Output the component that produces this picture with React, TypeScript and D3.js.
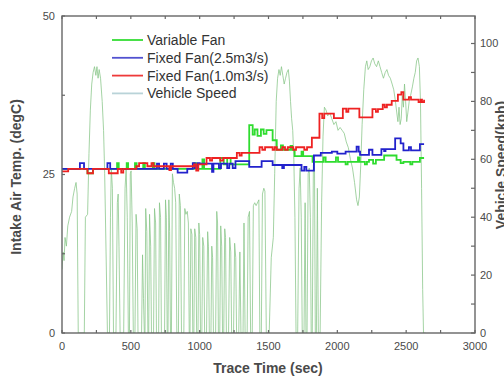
import * as d3 from "d3";

// trace time (sec) vs vehicle speed (kph)
const speedTime = [
  0, 8, 15, 22, 32, 42, 55, 70, 80, 92, 102, 110, 118, 162, 170, 186, 196, 206, 216, 226, 236, 246, 254, 262, 270,
  280, 292, 302, 310, 320, 330, 345, 352, 358, 366, 374, 392, 402, 408, 414, 422, 448, 458, 466, 474, 482, 490, 496,
  502, 510, 518, 530, 538, 546, 552, 578, 585, 592, 598, 603, 608, 616, 624, 630, 636, 644, 650, 665, 672, 680, 686,
  702, 708, 716, 722, 745, 752, 758, 764, 770, 776, 782, 788, 795, 802, 810, 818, 826, 834, 846, 852, 860, 868, 885,
  892, 900, 910, 918, 924, 930, 936, 944, 950, 958, 964, 972, 978, 988, 994, 1000, 1006, 1016, 1022, 1030, 1036,
  1050, 1058, 1064, 1070, 1082, 1088, 1094, 1100, 1116, 1124, 1130, 1136, 1146, 1153, 1160, 1166, 1175, 1182, 1188,
  1194, 1210, 1218, 1226, 1232, 1246, 1254, 1262, 1268, 1284, 1292, 1300, 1315, 1322, 1330, 1345, 1352, 1362, 1370,
  1382, 1390, 1400, 1410, 1430, 1437, 1448, 1456, 1466, 1474, 1484, 1492, 1505, 1520, 1535, 1545, 1556, 1566, 1576,
  1585, 1594, 1604, 1614, 1624, 1634, 1644, 1652, 1660, 1668, 1676, 1684, 1692, 1700, 1712, 1722, 1730, 1738, 1745,
  1758, 1766, 1772, 1780, 1788, 1796, 1804, 1810, 1818, 1826, 1834, 1840, 1848, 1855, 1862, 1875, 1886, 1896, 1906,
  1918, 1930, 1945, 1960, 1975, 1990, 2005, 2020, 2035, 2050, 2065, 2080, 2095, 2110, 2125, 2140, 2150, 2160, 2170,
  2180, 2192, 2204, 2214, 2224, 2236, 2248, 2260, 2272, 2285, 2298, 2310, 2322, 2335, 2348, 2360, 2372, 2385, 2398,
  2410, 2422, 2432, 2440, 2448, 2456, 2464, 2472, 2480, 2488, 2496, 2504, 2512, 2522, 2532, 2545, 2556, 2566, 2576,
  2586, 2596, 2604, 2612, 2620, 2626, 2640,
];
const speedKph = [
  22, 28, 25, 33, 30, 37, 40, 42, 47, 50, 52, 48, 0, 0, 40, 41, 62, 77, 86, 90, 92, 89, 92, 88, 91,
  88, 80, 70, 55, 28, 0, 0, 40, 57, 50, 0, 0, 45, 48, 30, 0, 0, 50, 57, 40, 0, 0, 55,
  56, 38, 0, 0, 41, 36, 0, 0, 27, 12, 0, 0, 43, 35, 0, 0, 41, 30, 0, 0, 43, 38, 0,
  0, 45, 40, 0, 0, 46, 40, 0, 0, 46, 35, 0, 0, 55, 52, 50, 45, 0, 0, 48, 44, 0, 0,
  43, 41, 42, 38, 0, 0, 36, 34, 0, 0, 36, 33, 0, 0, 38, 34, 0, 0, 33, 30, 0,
  0, 35, 30, 0, 0, 30, 26, 0, 0, 42, 38, 0, 0, 37, 30, 0, 0, 36, 33,
  0, 0, 33, 28, 0, 0, 31, 26, 0, 0, 28, 0, 0, 38, 0, 0, 40, 42, 0,
  0, 44, 45, 44, 46, 0, 0, 48, 50, 49, 0, 0, 0, 26, 33, 55, 80, 88, 91,
  89, 92, 89, 86, 88, 90, 91, 87, 80, 74, 70, 60, 40, 0, 0, 50, 57, 40, 0,
  0, 45, 0, 0, 55, 57, 40, 0, 0, 58, 60, 0, 0, 50, 0, 0, 45, 68, 78,
  77, 75, 76, 74, 72, 73, 70, 71, 70, 69, 66, 64, 60, 57, 52, 46, 44, 47, 58,
  72, 84, 92, 94, 91, 92, 94, 95, 93, 92, 94, 92, 90, 88, 90, 91, 89, 88, 86,
  84, 80, 76, 73, 78, 72, 74, 82, 78, 86, 80, 73, 76, 80, 82, 85, 88, 90, 94,
  95, 92, 80, 50, 15, 0, 0,
];

// intake air temperature (degC), step traces
const varFanTime = [
  0, 185, 225, 400, 412, 470, 480, 530, 542, 590, 602, 660, 672, 960, 975, 1020, 1032, 1150, 1175, 1200, 1225,
  1360, 1385, 1400, 1420, 1445, 1465, 1485, 1530, 1560, 1590, 1605, 1660, 1672, 1690, 1740, 1752, 1820, 1900,
  1915, 1990, 2005, 2060, 2075, 2150, 2162, 2200, 2215, 2230, 2260, 2280, 2340, 2430, 2460, 2480, 2530, 2545,
  2600, 2630,
];
const varFanTemp = [
  25.9, 25.2, 25.9, 26.8, 25.9, 26.8, 25.9, 26.8, 25.9, 26.8, 25.9, 26.8, 25.9, 26.8, 25.9, 27.4, 25.9, 27.6, 26.6, 27.6, 26.6,
  32.8, 31.3, 32.1, 31.1, 32.1, 31.4, 32.0, 30.4, 28.9, 29.6, 28.9, 29.5, 28.9, 27.9, 28.6, 27.9, 27.0, 27.7,
  27.0, 27.7, 27.0, 26.6, 27.0, 27.7, 27.0, 26.6, 27.0, 27.3, 26.7, 27.3, 28.0, 27.3, 26.8, 27.0, 26.6, 27.0,
  27.6, 27.6,
];
const fan25Time = [
  0, 130, 160, 330, 350, 690, 705, 740, 760, 790, 805, 840, 910, 950, 965, 985, 1000, 1090, 1100, 1140, 1155,
  1200, 1215, 1240, 1260, 1360, 1450, 1530, 1600, 1612, 1740, 1760, 1775, 1830, 1880, 1960, 2000, 2060, 2140,
  2155, 2165, 2230, 2255, 2320, 2340, 2350, 2420, 2460, 2480, 2520, 2535, 2600, 2630,
];
const fan25Temp = [
  25.9, 26.8, 25.9, 26.8, 25.9, 26.7, 25.9, 26.7, 25.9, 26.7, 25.9, 25.3, 25.9, 26.8, 26.0, 26.8, 26.7, 25.4, 26.7, 26.0, 26.7,
  26.0, 26.7, 26.0, 27.1, 26.2, 27.1, 26.5, 26.0, 26.5, 25.6, 26.2, 25.6, 28.0, 28.4, 28.6, 28.3, 28.6, 29.4,
  28.6, 28.1, 28.9, 28.1, 29.0, 28.7, 29.0, 30.7, 29.9, 28.8, 29.3, 28.8, 29.8, 29.8,
];
const fan10Time = [
  0, 45, 185, 225, 340, 405, 430, 445, 540, 560, 620, 650, 665, 780, 792, 960, 975, 990, 1050, 1075, 1090, 1150,
  1170, 1270, 1290, 1305, 1435, 1455, 1475, 1530, 1545, 1560, 1600, 1620, 1640, 1680, 1700, 1760, 1780, 1815,
  1870, 1890, 1905, 1975, 2040, 2065, 2080, 2160, 2255, 2280, 2295, 2330, 2345, 2360, 2395, 2440, 2465, 2480,
  2520, 2535, 2590, 2605, 2615, 2630,
];
const fan10Temp = [
  25.5, 25.9, 25.2, 25.9, 25.2, 25.9, 25.3, 25.9, 26.3, 26.8, 26.3, 26.8, 26.3, 25.7, 26.3, 26.6, 25.6, 26.6, 27.6, 27.2, 27.6, 27.2,
  27.6, 28.4, 28.0, 28.4, 29.3, 28.9, 29.3, 28.9, 29.3, 28.9, 29.3, 28.9, 29.3, 28.9, 29.3, 28.9, 29.3, 30.8,
  34.6, 33.9, 34.6, 33.9, 35.4, 34.9, 35.4, 34.0, 35.3, 34.9, 35.3, 36.0, 35.6, 36.0, 36.6, 37.6, 38.0, 36.8,
  37.2, 36.8, 36.4, 36.8, 36.4, 36.8,
];

const xTickValues = [0, 500, 1000, 1500, 2000, 2500, 3000];
const tempTickValues = [0, 25, 50];
const speedTickValues = [0, 20, 40, 60, 80, 100];

const legendLabels = ["Variable Fan", "Fixed Fan(2.5m3/s)", "Fixed Fan(1.0m3/s)", "Vehicle Speed"];
const legendColors = ["#35dd35", "#5252d0", "#ee3a3a", "#b9d3d8"];

const FONT = "'Liberation Sans', Arial, sans-serif";

export default function App() {
  const left = 62, right = 475, top = 16, bottom = 333;
  const x = d3.scaleLinear().domain([0, 3000]).range([left, right]);
  const yT = d3.scaleLinear().domain([0, 50]).range([bottom, top]);
  const yS = d3.scaleLinear().domain([0, 109.5]).range([bottom, top]);

  const speedLine = d3
    .line<number>()
    .x((t) => x(t))
    .y((_, i) => yS(speedKph[i]));
  const tempLine = (temps: number[]) =>
    d3
      .line<number>()
      .x((t) => x(t))
      .y((_, i) => yT(temps[i]))
      .curve(d3.curveStepAfter);

  const series = [
    { time: varFanTime, temp: varFanTemp, color: "#2fdc2f" },
    { time: fan25Time, temp: fan25Temp, color: "#2222cc" },
    { time: fan10Time, temp: fan10Temp, color: "#ee2222" },
  ];

  const axisColor = "#666";
  const textColor = "#4a4a4a";

  return (
    <svg width={504} height={380} style={{ position: "absolute", left: 0, top: 0, background: "#fff" }}>
      <defs>
        <clipPath id="plot">
          <rect x={left} y={top} width={right - left} height={bottom - top} />
        </clipPath>
      </defs>

      <g clipPath="url(#plot)">
        <path d={speedLine(speedTime) ?? ""} fill="none" stroke="#86c486" strokeWidth={1} strokeOpacity={0.75} />
        {series.map((s, i) => (
          <path key={i} d={tempLine(s.temp)(s.time) ?? ""} fill="none" stroke={s.color} strokeWidth={1.8} />
        ))}
      </g>

      {/* frame */}
      <rect x={left} y={top} width={right - left} height={bottom - top} fill="none" stroke={axisColor} strokeWidth={1.4} />

      {/* x ticks, bottom and top, inward */}
      {d3.range(0, 3001, 250).map((t) => (
        <g key={"xt" + t} stroke={axisColor} strokeWidth={1.2}>
          <line x1={x(t)} x2={x(t)} y1={bottom} y2={bottom - 3} />
          <line x1={x(t)} x2={x(t)} y1={top} y2={top + 3} />
        </g>
      ))}
      {/* left ticks */}
      {d3.range(0, 50.1, 12.5).map((v) => (
        <line key={"lt" + v} x1={left} x2={left + 3} y1={yT(v)} y2={yT(v)} stroke={axisColor} strokeWidth={1.2} />
      ))}
      {/* right ticks */}
      {d3.range(0, 101, 10).map((v) => (
        <line key={"rt" + v} x1={right} x2={right - 4} y1={yS(v)} y2={yS(v)} stroke={axisColor} strokeWidth={1.2} />
      ))}

      <g fontFamily={FONT} fontSize={11} fill={textColor}>
        {xTickValues.map((t) => (
          <text key={"xl" + t} x={x(t)} y={350} textAnchor="middle">
            {t}
          </text>
        ))}
        {tempTickValues.map((v) => (
          <text key={"yl" + v} x={55} y={yT(v)} dy="0.35em" textAnchor="end">
            {v}
          </text>
        ))}
        {speedTickValues.map((v) => (
          <text key={"sl" + v} x={480} y={yS(v)} dy="0.35em" textAnchor="start">
            {v}
          </text>
        ))}
      </g>

      <g fontFamily={FONT} fontSize={14} fontWeight="bold" fill={textColor}>
        <text x={268} y={373} textAnchor="middle">
          Trace Time (sec)
        </text>
        <text transform="translate(21,177) rotate(-90)" textAnchor="middle">
          Intake Air Temp. (degC)
        </text>
        <text transform="translate(506,165) rotate(-90)" textAnchor="middle">
          Vehicle Speed(kph)
        </text>
      </g>

      {/* legend */}
      <g fontFamily={FONT} fontSize={14} fill="#333">
        {legendLabels.map((label, i) => (
          <g key={label} transform={`translate(0,${40 + i * 17.8})`}>
            <line x1={112} x2={143} y1={0} y2={0} stroke={legendColors[i]} strokeWidth={1.8} />
            <text x={147} y={0} dy="0.35em">
              {label}
            </text>
          </g>
        ))}
      </g>
    </svg>
  );
}
